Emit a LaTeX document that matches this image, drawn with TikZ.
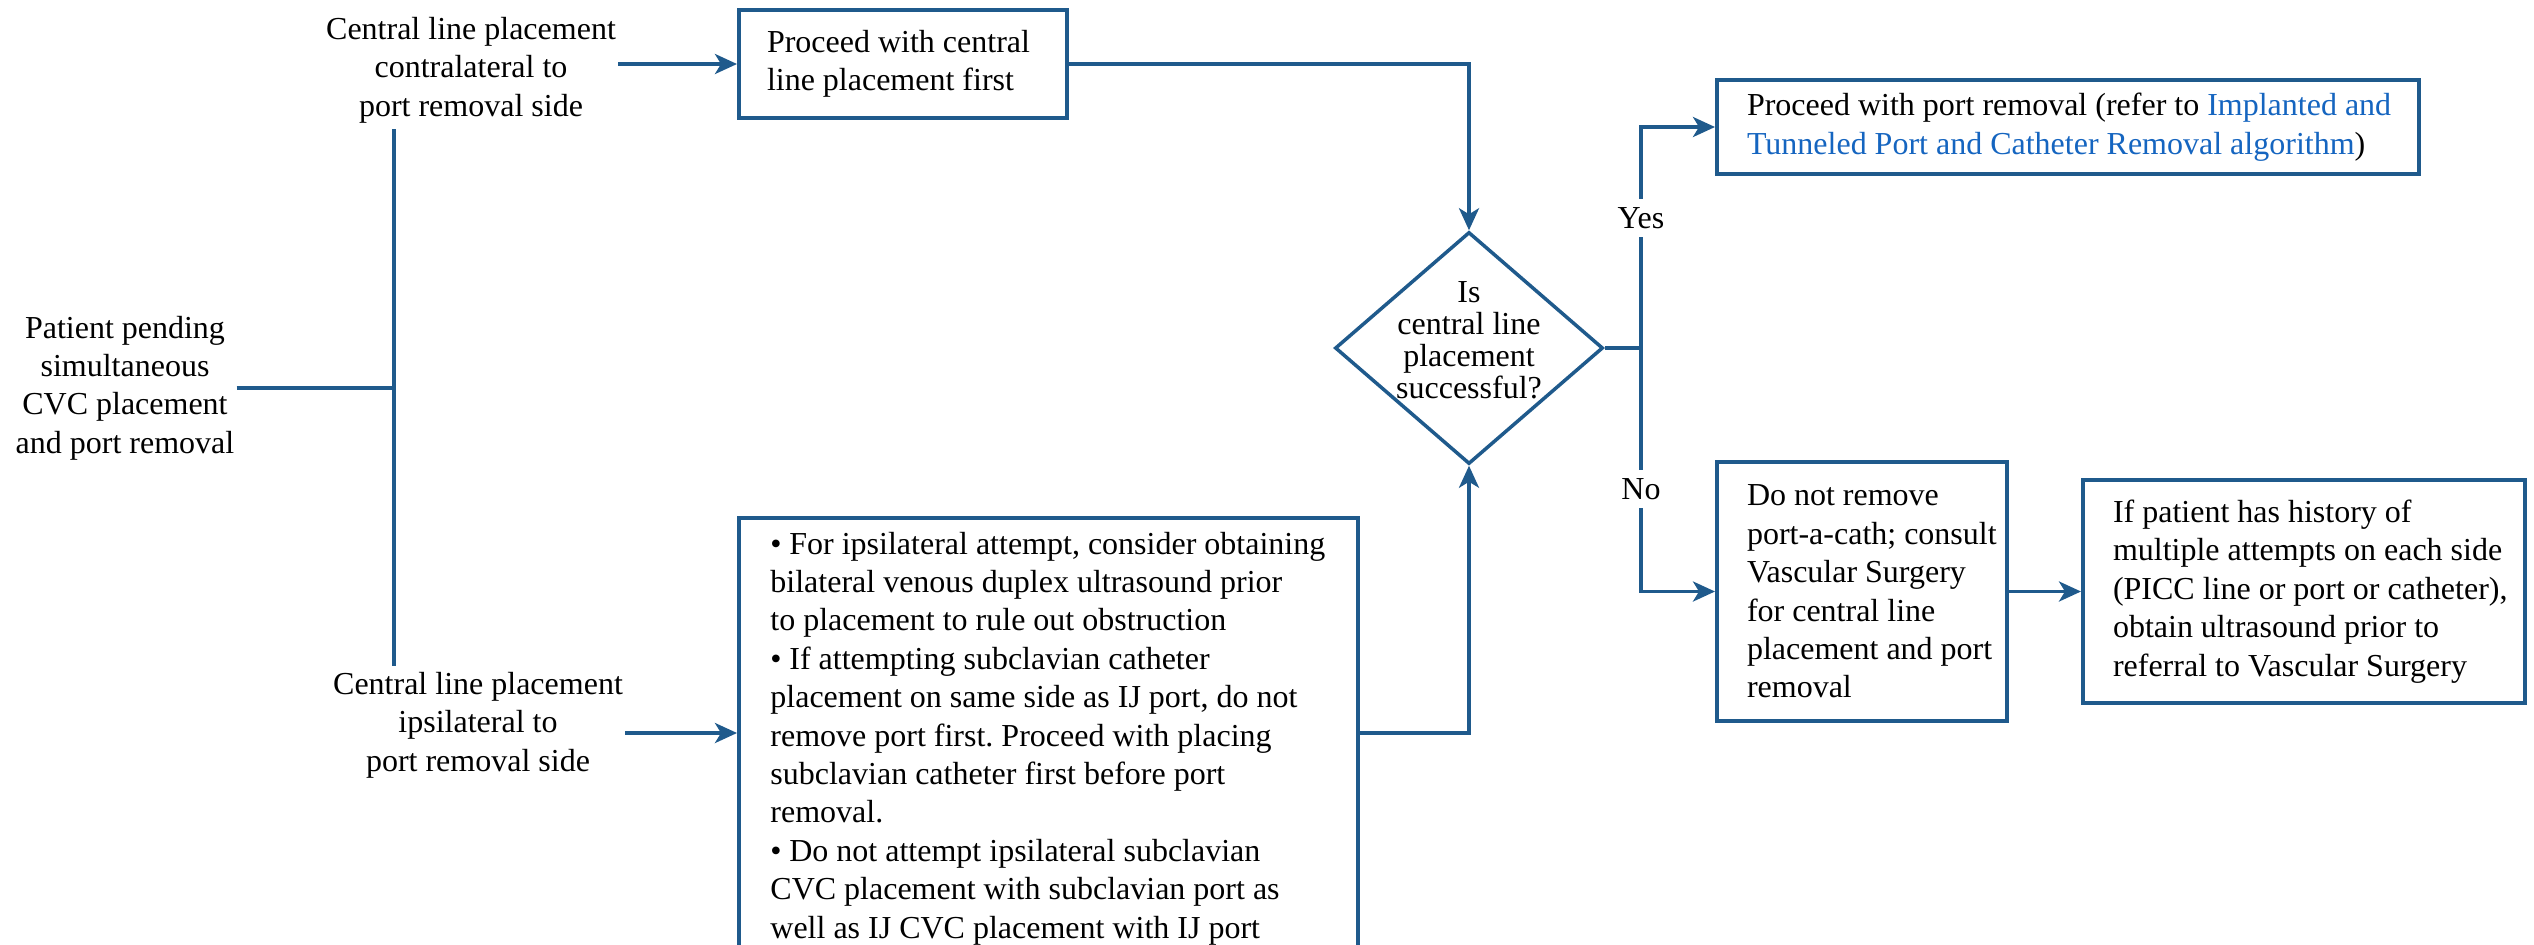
\documentclass[tikz,border=0pt]{standalone}
\usepackage{fontspec}
\setmainfont{Liberation Serif}
\usetikzlibrary{shapes.geometric,arrows.meta}
\definecolor{lblue}{RGB}{31,90,140}
\definecolor{linkc}{RGB}{21,101,192}
\frenchspacing
\newcommand{\fs}{\fontsize{16}{19.2}\selectfont}
\newcommand{\bx}[3]{\hspace*{#1}\parbox{#2}{\raggedright #3}}
\newcommand{\bitem}[1]{\par\noindent\hangindent=11pt\hangafter=1\makebox[9.5pt][l]{\textbullet}#1}
\begin{document}
\begin{tikzpicture}[x=0.5pt,y=-0.5pt,
  line/.style={draw=lblue,line width=1.75pt},
  arr/.style={line,-{Stealth[length=11pt,width=10pt,inset=3pt]}},
  box/.style={draw=lblue,line width=2pt,fill=white,inner xsep=0pt,inner ysep=0pt,font=\fs},
  txt/.style={font=\fs,align=center,inner xsep=1pt,inner ysep=3pt},
  lab/.style={font=\fs,fill=white,inner sep=4pt},
  dia/.style={shape=diamond,draw=lblue,line width=1.75pt,inner sep=0pt,minimum width=134pt,minimum height=116pt}]
\clip (0,0) rectangle (2534,944);
\fill[white] (0,0) rectangle (2534,944);
% left texts
\node[txt] (pat) at (125,388) {Patient pending\\simultaneous\\CVC placement\\and port removal};
\node[txt] (ctop) at (471,70) {Central line placement\\contralateral to\\port removal side};
\node[txt] (cbot) at (478,725) {Central line placement\\ipsilateral to\\port removal side};
\coordinate (vx) at (394,0);
% boxes
\node[box,minimum width=164pt,minimum height=54pt] (tbox) at (903,64) {\bx{14pt}{150pt}{Proceed with central\\line placement first}};
\node[box,minimum width=309.5pt,minimum height=215pt] (bbox) at (1048.5,733) {};
\node[anchor=base west,inner sep=0pt,font=\fs] (btext) at (770,554) {\parbox[t]{285pt}{\raggedright
\bitem{For ipsilateral attempt, consider obtaining\\bilateral venous duplex ultrasound prior\\to placement to rule out obstruction}
\bitem{If attempting subclavian catheter\\placement on same side as IJ port, do not\\remove port first. Proceed with placing\\subclavian catheter first before port\\removal.}
\bitem{Do not attempt ipsilateral subclavian\\CVC placement with subclavian port as\\well as IJ CVC placement with IJ port}}};
\node[dia] (dia) at (1469,348) {};
\node[font=\fontsize{16}{16}\selectfont,align=center,inner sep=0pt] (dtext) at (1469,340) {Is\\central line\\placement\\successful?};
\node[box,minimum width=351pt,minimum height=47pt] (ybox) at (2068,127) {\bx{15pt}{336pt}{Proceed with port removal (refer to \textcolor{linkc}{Implanted and}\\\textcolor{linkc}{Tunneled Port and Catheter Removal algorithm})}};
\node[box,minimum width=145pt,minimum height=129.5pt] (nbox) at (1862,591.5) {\bx{15pt}{130pt}{Do not remove\\port-a-cath; consult\\Vascular Surgery\\for central line\\placement and port\\removal}};
\node[box,minimum width=221pt,minimum height=111.5pt] (lbox) at (2304,591.5) {\bx{15pt}{206pt}{If patient has history of\\multiple attempts on each side\\(PICC line or port or catheter),\\obtain ultrasound prior to\\referral to Vascular Surgery}};
% connectors
\draw[line] (pat.east) -- (pat.east -| vx);
\draw[line] (ctop.south -| vx) -- (cbot.north -| vx);
\draw[arr] (ctop.east |- tbox.west) -- (tbox.west);
\draw[arr] (cbot.east |- bbox.west) -- (bbox.west);
\draw[arr] (tbox.east) -| (dia.north);
\draw[arr] (bbox.east) -| (dia.south);
\coordinate (j) at (1641,348);
\draw[line] (dia.east) -- (j);
\draw[arr] (j) |- (ybox.west);
\draw[arr] (j) |- (nbox.west);
\draw[arr] (nbox.east) -- (lbox.west);
\node[lab] (yes) at (1641,218) {Yes};
\node[lab] (no) at (1641,489) {No};
\end{tikzpicture}
\end{document}
